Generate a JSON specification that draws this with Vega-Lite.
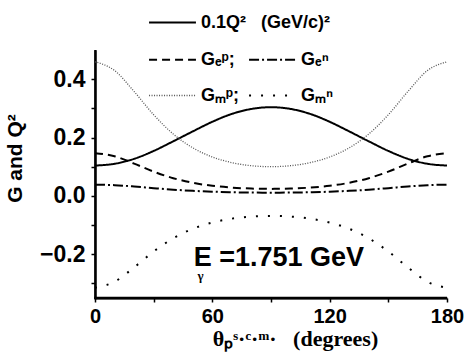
{
  "$schema": "https://vega.github.io/schema/vega-lite/v6.json",
  "width": 352,
  "height": 248,
  "autosize": {"type": "none"},
  "padding": {"left": 95, "top": 50, "right": 21, "bottom": 62},
  "background": "white",
  "config": {
    "view": {"stroke": null},
    "font": "Liberation Sans",
    "axis": {
      "domain": true, "ticks": true, "domainColor": "#000000", "domainWidth": 2, "domainOpacity": 1, "tickColor": "#000000", "tickWidth": 1.5, "tickOpacity": 1,
      "tickSize": 4, "grid": false, "labelFont": "Liberation Sans", "labelFontWeight": "bold",
      "labelColor": "black", "titleColor": "black", "labelFlush": false, "labelOverlap": false
    }
  },
  "data": {"values": [
    {"theta": 0, "q": 0.104, "Gep": 0.1465, "Gen": 0.0385, "Gmp": 0.4597, "Gmn": -0.3149},
    {"theta": 10, "q": 0.110, "Gep": 0.1359, "Gen": 0.0367, "Gmp": 0.4296, "Gmn": -0.2943},
    {"theta": 20, "q": 0.127, "Gep": 0.1107, "Gen": 0.0322, "Gmp": 0.3577, "Gmn": -0.2450},
    {"theta": 30, "q": 0.154, "Gep": 0.0831, "Gen": 0.0265, "Gmp": 0.2781, "Gmn": -0.1905},
    {"theta": 40, "q": 0.187, "Gep": 0.0607, "Gen": 0.0213, "Gmp": 0.2121, "Gmn": -0.1453},
    {"theta": 50, "q": 0.221, "Gep": 0.0449, "Gen": 0.0173, "Gmp": 0.1647, "Gmn": -0.1128},
    {"theta": 60, "q": 0.254, "Gep": 0.0346, "Gen": 0.0144, "Gmp": 0.1333, "Gmn": -0.0913},
    {"theta": 70, "q": 0.281, "Gep": 0.0284, "Gen": 0.0125, "Gmp": 0.1139, "Gmn": -0.0780},
    {"theta": 80, "q": 0.298, "Gep": 0.0251, "Gen": 0.0114, "Gmp": 0.1034, "Gmn": -0.0708},
    {"theta": 90, "q": 0.304, "Gep": 0.0240, "Gen": 0.0111, "Gmp": 0.1001, "Gmn": -0.0686},
    {"theta": 100, "q": 0.298, "Gep": 0.0251, "Gen": 0.0114, "Gmp": 0.1034, "Gmn": -0.0708},
    {"theta": 110, "q": 0.281, "Gep": 0.0284, "Gen": 0.0125, "Gmp": 0.1139, "Gmn": -0.0780},
    {"theta": 120, "q": 0.254, "Gep": 0.0346, "Gen": 0.0144, "Gmp": 0.1333, "Gmn": -0.0913},
    {"theta": 130, "q": 0.221, "Gep": 0.0449, "Gen": 0.0173, "Gmp": 0.1647, "Gmn": -0.1128},
    {"theta": 140, "q": 0.187, "Gep": 0.0607, "Gen": 0.0213, "Gmp": 0.2121, "Gmn": -0.1453},
    {"theta": 150, "q": 0.154, "Gep": 0.0831, "Gen": 0.0265, "Gmp": 0.2781, "Gmn": -0.1905},
    {"theta": 160, "q": 0.127, "Gep": 0.1107, "Gen": 0.0322, "Gmp": 0.3577, "Gmn": -0.2450},
    {"theta": 170, "q": 0.110, "Gep": 0.1359, "Gen": 0.0367, "Gmp": 0.4296, "Gmn": -0.2943},
    {"theta": 180, "q": 0.104, "Gep": 0.1465, "Gen": 0.0385, "Gmp": 0.4597, "Gmn": -0.3149}
  ]},
  "layer": [
    {
      "data": {"values": [{"axis": "left"}]},
      "mark": {"type": "rect", "color": "black", "opacity": 1},
      "encoding": {
        "x": {"datum": -0.4, "type": "quantitative", "scale": {"domain": [0, 180], "nice": false, "zero": false},
          "axis": {"values": [0, 30, 60, 90, 120, 150, 180], "labelExpr": "datum.value % 60 == 0 ? datum.label : ''",
            "labelFontSize": 20, "labelPadding": 4, "title": "θₚˢ·ᶜ·ᵐ·\u00a0\u00a0\u00a0(degrees)", "titleFont": "Liberation Serif",
            "titleFontSize": 22, "titleFontWeight": "bold", "titleX": 200, "titlePadding": 2}},
        "x2": {"datum": 0.8},
        "y": {"datum": -0.3545, "type": "quantitative", "scale": {"domain": [-0.35, 0.5], "nice": false, "zero": false},
          "axis": {"values": [-0.3, -0.2, -0.1, 0, 0.1, 0.2, 0.3, 0.4], "format": ".1f",
            "labelExpr": "abs(round(datum.value * 10)) % 2 == 0 ? datum.label : ''",
            "labelFontSize": 23, "labelPadding": 6, "title": "G and Q²", "titleFontSize": 21,
            "titleFontWeight": "bold", "titlePadding": 14, "titleY": 108}},
        "y2": {"datum": 0.5}
      }
    },
    {
      "data": {"values": [{"axis": "bottom"}]},
      "mark": {"type": "rect", "color": "black", "opacity": 1},
      "encoding": {
        "x": {"datum": -0.4, "type": "quantitative", "scale": {"domain": [0, 180], "nice": false, "zero": false},
          "axis": {"values": [0, 30, 60, 90, 120, 150, 180], "labelExpr": "datum.value % 60 == 0 ? datum.label : ''",
            "labelFontSize": 20, "labelPadding": 4, "title": "θₚˢ·ᶜ·ᵐ·\u00a0\u00a0\u00a0(degrees)", "titleFont": "Liberation Serif",
            "titleFontSize": 22, "titleFontWeight": "bold", "titleX": 200, "titlePadding": 2}},
        "x2": {"datum": 180},
        "y": {"datum": -0.3545, "type": "quantitative", "scale": {"domain": [-0.35, 0.5], "nice": false, "zero": false},
          "axis": {"values": [-0.3, -0.2, -0.1, 0, 0.1, 0.2, 0.3, 0.4], "format": ".1f",
            "labelExpr": "abs(round(datum.value * 10)) % 2 == 0 ? datum.label : ''",
            "labelFontSize": 23, "labelPadding": 6, "title": "G and Q²", "titleFontSize": 21,
            "titleFontWeight": "bold", "titlePadding": 14, "titleY": 108}},
        "y2": {"datum": -0.3455}
      }
    },
    {
      "transform": [{"fold": ["q"], "as": ["series", "value"]}],
      "mark": {"type": "line", "interpolate": "monotone", "strokeWidth": 2, "color": "black"},
      "encoding": {
        "x": {"field": "theta", "type": "quantitative", "scale": {"domain": [0, 180], "nice": false, "zero": false},
          "axis": {"values": [0, 30, 60, 90, 120, 150, 180], "labelExpr": "datum.value % 60 == 0 ? datum.label : ''",
            "labelFontSize": 20, "labelPadding": 4, "title": "θₚˢ·ᶜ·ᵐ·\u00a0\u00a0\u00a0(degrees)", "titleFont": "Liberation Serif",
            "titleFontSize": 22, "titleFontWeight": "bold", "titleX": 200, "titlePadding": 2}},
        "y": {"field": "value", "type": "quantitative", "scale": {"domain": [-0.35, 0.5], "nice": false, "zero": false},
          "axis": {"values": [-0.3, -0.2, -0.1, 0, 0.1, 0.2, 0.3, 0.4], "format": ".1f",
            "labelExpr": "abs(round(datum.value * 10)) % 2 == 0 ? datum.label : ''",
            "labelFontSize": 23, "labelPadding": 6, "title": "G and Q²", "titleFontSize": 21,
            "titleFontWeight": "bold", "titlePadding": 14, "titleY": 108}},
        "strokeDash": {"field": "series", "type": "nominal", "scale": {"domain": ["q"], "range": [[1, 0]]},
          "legend": {"orient": "none", "legendX": 53, "legendY": -52, "title": null, "symbolType": "stroke",
            "symbolSize": 2200, "symbolStrokeWidth": 2, "symbolStrokeColor": "black", "labelFontSize": 18,
            "labelFontWeight": "bold", "labelColor": "black", "labelExpr": "'0.1Q²\u00a0\u00a0\u00a0(GeV/c)²'", "labelOffset": 4}}
      }
    },
    {
      "transform": [{"fold": ["Gep", "Gen", "Gmp", "Gmn"], "as": ["series", "value"]}],
      "mark": {"type": "line", "interpolate": "monotone"},
      "encoding": {
        "x": {"field": "theta", "type": "quantitative", "scale": {"domain": [0, 180], "nice": false, "zero": false},
          "axis": {"values": [0, 30, 60, 90, 120, 150, 180], "labelExpr": "datum.value % 60 == 0 ? datum.label : ''",
            "labelFontSize": 20, "labelPadding": 4, "title": "θₚˢ·ᶜ·ᵐ·\u00a0\u00a0\u00a0(degrees)", "titleFont": "Liberation Serif",
            "titleFontSize": 22, "titleFontWeight": "bold", "titleX": 200, "titlePadding": 2}},
        "y": {"field": "value", "type": "quantitative", "scale": {"domain": [-0.35, 0.5], "nice": false, "zero": false},
          "axis": {"values": [-0.3, -0.2, -0.1, 0, 0.1, 0.2, 0.3, 0.4], "format": ".1f",
            "labelExpr": "abs(round(datum.value * 10)) % 2 == 0 ? datum.label : ''",
            "labelFontSize": 23, "labelPadding": 6, "title": "G and Q²", "titleFontSize": 21,
            "titleFontWeight": "bold", "titlePadding": 14, "titleY": 108}},
        "strokeDash": {"field": "series", "type": "nominal",
          "scale": {"domain": ["Gep", "Gmp", "Gen", "Gmn"], "range": [[8, 5], [1, 1.5], [10, 3, 2, 3], [2, 10]]},
          "legend": {"orient": "none", "legendX": 53, "legendY": -15, "title": null, "columns": 2, "columnPadding": 5,
            "rowPadding": 2, "symbolType": "stroke", "symbolSize": 2200,
            "labelFontSize": 18, "labelFontWeight": "bold", "labelColor": "black", "labelOffset": 4,
            "labelExpr": "datum.label == 'Gep' ? 'Gₑᵖ;' : datum.label == 'Gen' ? 'Gₑⁿ' : datum.label == 'Gmp' ? 'Gₘᵖ;' : 'Gₘⁿ'"}},
        "stroke": {"field": "series", "type": "nominal",
          "scale": {"domain": ["Gep", "Gmp", "Gen", "Gmn"], "range": ["black", "#555555", "black", "black"]},
          "legend": {"orient": "none", "legendX": 53, "legendY": -15, "title": null, "columns": 2, "columnPadding": 5,
            "rowPadding": 2, "symbolType": "stroke", "symbolSize": 2200,
            "labelFontSize": 18, "labelFontWeight": "bold", "labelColor": "black", "labelOffset": 4,
            "labelExpr": "datum.label == 'Gep' ? 'Gₑᵖ;' : datum.label == 'Gen' ? 'Gₑⁿ' : datum.label == 'Gmp' ? 'Gₘᵖ;' : 'Gₘⁿ'"}},
        "strokeWidth": {"field": "series", "type": "nominal",
          "scale": {"type": "ordinal", "domain": ["Gep", "Gmp", "Gen", "Gmn"], "range": [2, 1.3, 2, 2]},
          "legend": {"orient": "none", "legendX": 53, "legendY": -15, "title": null, "columns": 2, "columnPadding": 5,
            "rowPadding": 2, "symbolType": "stroke", "symbolSize": 2200,
            "labelFontSize": 18, "labelFontWeight": "bold", "labelColor": "black", "labelOffset": 4,
            "labelExpr": "datum.label == 'Gep' ? 'Gₑᵖ;' : datum.label == 'Gen' ? 'Gₑⁿ' : datum.label == 'Gmp' ? 'Gₘᵖ;' : 'Gₘⁿ'"}}
      }
    },
    {
      "data": {"values": [{"label": "E =1.751 GeV"}]},
      "mark": {"type": "text", "fontSize": 27, "fontWeight": "bold", "font": "Liberation Sans", "color": "black", "align": "center", "baseline": "alphabetic"},
      "encoding": {
        "x": {"datum": 94, "type": "quantitative", "scale": {"domain": [0, 180], "nice": false, "zero": false},
          "axis": {"values": [0, 30, 60, 90, 120, 150, 180], "labelExpr": "datum.value % 60 == 0 ? datum.label : ''",
            "labelFontSize": 20, "labelPadding": 4, "title": "θₚˢ·ᶜ·ᵐ·\u00a0\u00a0\u00a0(degrees)", "titleFont": "Liberation Serif",
            "titleFontSize": 22, "titleFontWeight": "bold", "titleX": 200, "titlePadding": 2}},
        "y": {"datum": -0.24, "type": "quantitative", "scale": {"domain": [-0.35, 0.5], "nice": false, "zero": false},
          "axis": {"values": [-0.3, -0.2, -0.1, 0, 0.1, 0.2, 0.3, 0.4], "format": ".1f",
            "labelExpr": "abs(round(datum.value * 10)) % 2 == 0 ? datum.label : ''",
            "labelFontSize": 23, "labelPadding": 6, "title": "G and Q²", "titleFontSize": 21,
            "titleFontWeight": "bold", "titlePadding": 14, "titleY": 108}},
        "text": {"field": "label"}
      }
    },
    {
      "data": {"values": [{"label": "γ"}]},
      "mark": {"type": "text", "fontSize": 13, "fontWeight": "bold", "font": "Liberation Serif", "color": "black", "align": "center", "baseline": "alphabetic"},
      "encoding": {
        "x": {"datum": 54, "type": "quantitative", "scale": {"domain": [0, 180], "nice": false, "zero": false},
          "axis": {"values": [0, 30, 60, 90, 120, 150, 180], "labelExpr": "datum.value % 60 == 0 ? datum.label : ''",
            "labelFontSize": 20, "labelPadding": 4, "title": "θₚˢ·ᶜ·ᵐ·\u00a0\u00a0\u00a0(degrees)", "titleFont": "Liberation Serif",
            "titleFontSize": 22, "titleFontWeight": "bold", "titleX": 200, "titlePadding": 2}},
        "y": {"datum": -0.288, "type": "quantitative", "scale": {"domain": [-0.35, 0.5], "nice": false, "zero": false},
          "axis": {"values": [-0.3, -0.2, -0.1, 0, 0.1, 0.2, 0.3, 0.4], "format": ".1f",
            "labelExpr": "abs(round(datum.value * 10)) % 2 == 0 ? datum.label : ''",
            "labelFontSize": 23, "labelPadding": 6, "title": "G and Q²", "titleFontSize": 21,
            "titleFontWeight": "bold", "titlePadding": 14, "titleY": 108}},
        "text": {"field": "label"}
      }
    }
  ],
  "resolve": {
    "scale": {"strokeDash": "independent", "stroke": "independent", "strokeWidth": "independent"},
    "legend": {"strokeDash": "independent", "stroke": "independent", "strokeWidth": "independent"}
  }
}
